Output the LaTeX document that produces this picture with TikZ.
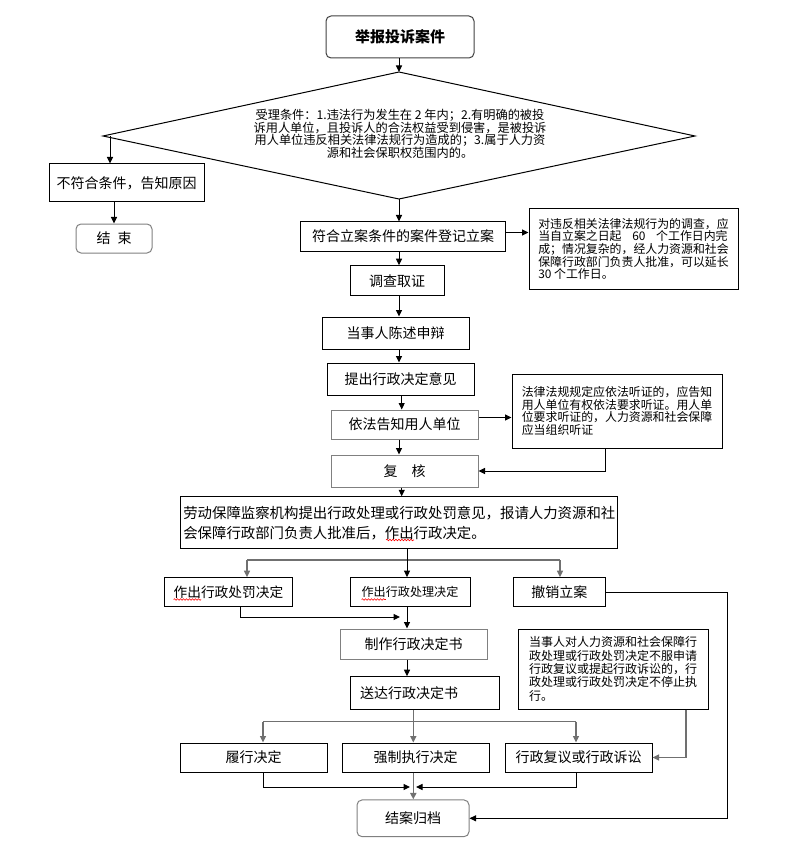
\documentclass[tikz,border=0pt]{standalone}
\usepackage{fontspec}
\setmainfont{Noto Sans CJK SC}
\usepackage{xcolor}
\usetikzlibrary{arrows.meta,calc,decorations.pathmorphing}
\definecolor{boxgray}{RGB}{128,128,128}
\definecolor{edgegray}{RGB}{112,112,112}

\begin{document}
\begin{tikzpicture}[x=1pt,y=-1pt,
  box/.style={draw, line width=1pt, inner sep=0pt, font=\fontsize{14}{16}\selectfont},
  gbox/.style={box, draw=boxgray},
  rbox/.style={gbox, rounded corners=5pt},
  note/.style={draw, line width=1pt, inner sep=0pt, align=left, font=\fontsize{11.9}{12.7}\selectfont},
  arr/.style={line width=1pt, -{Triangle[length=6.5pt,width=6pt]}},
  garr/.style={arr, line width=1.5pt, edgegray},
  gline/.style={line width=1.5pt, edgegray},
  wavy/.style={red, line width=0.6pt, decorate, decoration={snake, amplitude=0.8pt, segment length=3pt}}]
  \useasboundingbox (0,0) rectangle (792,842);
  % columns of the vertical connectors
  \coordinate (ax) at (399,0);
  \coordinate (bx) at (401.7,0);
  \coordinate (cx) at (407,0);
  \coordinate (dx) at (413.3,0);
  %
  % Top and condition:
  \node[rbox, draw=black!75, minimum width=148pt, minimum height=42pt, font=\bfseries\fontsize{15}{17}\selectfont] (start) at (400,37) {举报投诉案件};
  \coordinate (dtop) at (399,72);
  \coordinate (dright) at (695,136);
  \coordinate (dbot) at (399,199);
  \coordinate (dleft) at (103,136);
  \draw[line width=1pt] (dtop) -- (dright) -- (dbot) -- (dleft) -- cycle;
  \node[align=center, inner sep=0pt, font=\fontsize{12.2}{12.6}\selectfont] (cond) at (400,134) {受理条件：1.违法行为发生在 2 年内；2.有明确的被投\\诉用人单位，且投诉人的合法权益受到侵害，是被投诉\\用人单位违反相关法律法规行为造成的；3.属于人力资\\源和社会保职权范围内的。};
  \node[box, minimum width=155pt, minimum height=38pt] (no) at (126.5,183) {不符合条件，告知原因};
  \node[rbox, minimum width=76pt, minimum height=29pt] (end) at (114,238.5) {结\hspace{0.5em}束};
  %
  % Main column:
  \node[box, minimum width=205pt, minimum height=29pt] (reg) at (403,236.5) {符合立案条件的案件登记立案};
  \node[note, minimum width=209pt, minimum height=80pt] (note1) at (633.5,249) {对违反相关法律法规行为的调查，应\\当自立案之日起\hspace{0.9em}60\hspace{0.9em}个工作日内完\\成；情况复杂的，经人力资源和社会\\保障行政部门负责人批准，可以延长\\30 个工作日。};
  \node[box, minimum width=94pt, minimum height=30pt] (inv) at (397,280.7) {调查取证};
  \node[box, minimum width=147pt, minimum height=32pt] (stmt) at (395.5,333) {当事人陈述申辩};
  \node[box, minimum width=147pt, minimum height=32pt] (prop) at (400.5,379) {提出行政决定意见};
  \node[gbox, minimum width=147pt, minimum height=29pt] (notify) at (404.5,424.5) {依法告知用人单位};
  \node[note, minimum width=210pt, minimum height=74pt] (note2) at (617,411) {法律法规规定应依法听证的，应告知\\用人单位有权依法要求听证。用人单\\位要求听证的，人力资源和社会保障\\应当组织听证};
  \node[gbox, minimum width=147pt, minimum height=32pt] (rev) at (404.5,471) {复\hspace{1em}核};
  \node[box, minimum width=437pt, minimum height=52pt, align=left, font=\fontsize{14.4}{20}\selectfont] (big) at (399.3,522.8) {劳动保障监察机构提出行政处理或行政处罚意见，报请人力资源和社\\会保障行政部门负责人批准后，作出行政决定。};
  %
  % Decisions:
  \node[box, minimum width=128.7pt, minimum height=29.3pt, font=\fontsize{13.7}{16}\selectfont] (pen) at (228.4,592.3) {作出行政处罚决定};
  \node[box, minimum width=120pt, minimum height=29.3pt, font=\fontsize{12.1}{15}\selectfont] (pdec) at (410,592.3) {作出行政处理决定};
  \node[box, minimum width=92.7pt, minimum height=29.3pt] (cxl) at (559.4,592.3) {撤销立案};
  \node[gbox, minimum width=147pt, minimum height=30pt] (doc) at (413.5,644) {制作行政决定书};
  \node[note, minimum width=190pt, minimum height=80pt, font=\fontsize{12}{13.4}\selectfont] (note3) at (613,669) {当事人对人力资源和社会保障行\\政处理或行政处罚决定不服申请\\行政复议或提起行政诉讼的，行\\政处理或行政处罚决定不停止执\\行。};
  \node[box, minimum width=149pt, minimum height=32.6pt, align=left, text width=129pt] (deliv) at (424.5,693) {送达行政决定书};
  \node[box, minimum width=147pt, minimum height=29pt] (perf) at (253.5,757.5) {履行决定};
  \node[box, minimum width=147pt, minimum height=29pt] (enf) at (415.5,757.5) {强制执行决定};
  \node[box, minimum width=147pt, minimum height=29pt] (appeal) at (578.5,757.5) {行政复议或行政诉讼};
  \node[rbox, minimum width=112pt, minimum height=36.7pt] (arch) at (413,818.3) {结案归档};
  %
  % Connectors, top part:
  \draw[arr] (start.south -| dtop) -- (dtop);
  \draw[arr] ([xshift=7pt]dleft) -- ([xshift=7pt]dleft |- no.north);
  \draw[arr] (end.north |- no.south) -- (end.north);
  \draw[arr] (dbot) -- (dbot |- reg.north);
  \draw[arr] ([yshift=4pt]reg.east) -- ([yshift=4pt]reg.east -| note1.west);
  \draw[arr] (reg.south -| ax) -- (inv.north -| ax);
  \draw[arr] (inv.south -| ax) -- (stmt.north -| ax);
  \draw[arr] (stmt.south -| ax) -- (prop.north -| ax);
  \draw[arr] (prop.south -| bx) -- (notify.north -| bx);
  \draw[arr] ([yshift=7pt]notify.east) -- ([yshift=7pt]notify.east -| note2.west);
  \draw[arr] (notify.south -| ax) -- (rev.north -| ax);
  \coordinate (sx) at (605,0);
  \draw[arr] (note2.south -| sx) |- (rev.east);
  \draw[arr] (rev.south -| bx) -- (big.north -| bx);
  %
  % Connectors, decisions:
  \coordinate (b1) at (247,560);
  \coordinate (b2) at (560,560);
  \draw[gline] (b1) -- (b2);
  \draw[garr] (b1) -- (b1 |- pen.north);
  \draw[garr] (b2) -- (b2 |- cxl.north);
  \draw[arr] (big.south -| cx) -- (pdec.north -| cx);
  \coordinate (px) at (240,0);
  \coordinate (m1) at (400,617);
  \draw[arr] (pen.south -| px) |- (m1);
  \draw[arr] (pdec.south -| cx) -- (doc.north -| cx);
  \draw[arr] (doc.south -| cx) -- (deliv.north -| cx);
  \coordinate (b3) at (263,721.7);
  \coordinate (b4) at (576,721.7);
  \draw[gline] (b3) -- (b4);
  \draw[garr] (b3) -- (b3 |- perf.north);
  \draw[garr] (b4) -- (b4 |- appeal.north);
  \draw[garr] (deliv.south -| dx) -- (enf.north -| dx);
  \coordinate (m2) at (410,787);
  \coordinate (m3) at (416,787);
  \draw[arr] (perf.south -| b3) |- (m2);
  \draw[arr] (appeal.south -| b4) |- (m3);
  \draw[garr] (enf.south -| dx) -- (arch.north -| dx);
  \coordinate (qx) at (686,0);
  \draw[garr] (note3.south -| qx) |- (appeal.east);
  \coordinate (rx) at (727,0);
  \draw[arr] (cxl.east) -- (cxl.east -| rx) |- (arch.east);
  %
  % spell-check marks
  \draw[wavy] (386,540) -- (414,540);
  \draw[wavy] (173.6,599.5) -- (201,599.5);
  \draw[wavy] (361.6,599.5) -- (385.8,599.5);
\end{tikzpicture}
\end{document}
